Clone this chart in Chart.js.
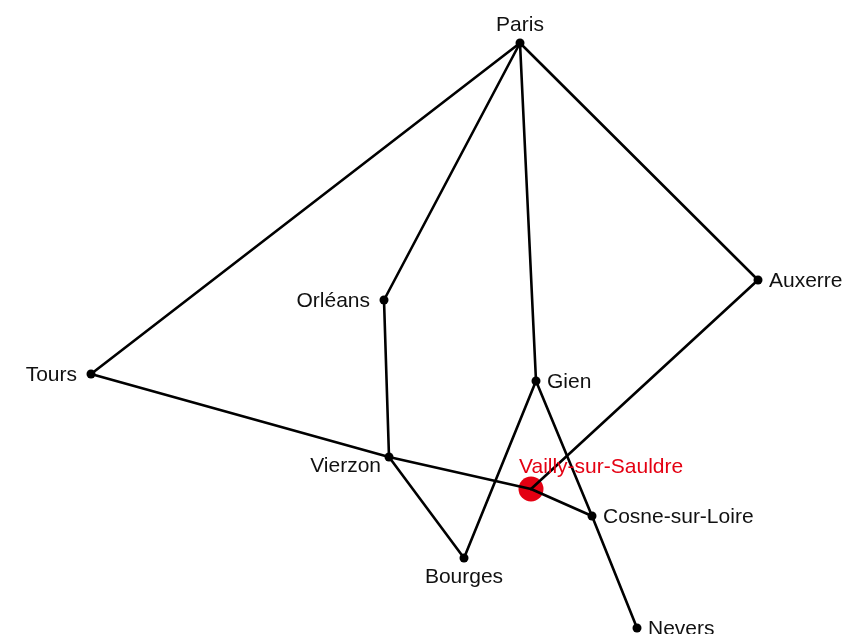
<!DOCTYPE html>
<html>
<head>
<meta charset="utf-8">
<script src="https://cdn.jsdelivr.net/npm/chart.js@4"></script>
<style>
html,body{margin:0;padding:0;background:#fff;}
#wrap{width:851px;height:634px;position:relative;}
</style>
</head>
<body>
<div id="wrap"><canvas id="c" width="851" height="634"></canvas></div>
<script>
// Node names and positions (map-like coordinates, y grows downward)
const cities = ["Paris","Tours","Orléans","Vierzon","Gien","Vailly-sur-Sauldre","Cosne-sur-Loire","Bourges","Nevers","Auxerre"];
const cityX  = [520, 91, 384, 389, 536, 531, 592, 464, 637, 758];
const cityY  = [43, 374, 300, 457, 381, 489, 516, 558, 628, 280];
const labelPos = ["top","left","left","below-left","right","above","right","bottom","right","right"];
const highlighted = ["Vailly-sur-Sauldre"];
// Routes between cities
const routeFrom = ["Paris","Paris","Paris","Paris","Orléans","Tours","Vierzon","Vailly-sur-Sauldre","Auxerre","Vierzon","Bourges","Gien","Cosne-sur-Loire"];
const routeTo   = ["Tours","Orléans","Gien","Auxerre","Vierzon","Vierzon","Vailly-sur-Sauldre","Cosne-sur-Loire","Vailly-sur-Sauldre","Bourges","Gien","Cosne-sur-Loire","Nevers"];

const idx = n => cities.indexOf(n);
const pt = n => ({x: cityX[idx(n)], y: cityY[idx(n)]});

const datasets = [];
routeFrom.forEach((a,i)=>{
  datasets.push({
    type:'line', data:[pt(a), pt(routeTo[i])],
    borderColor:'#000', borderWidth:2.6, pointRadius:0, showLine:true, fill:false, tension:0, order:3, clip:false
  });
});
const normal = cities.filter(c=>!highlighted.includes(c));
datasets.push({
  type:'scatter', data: normal.map(pt), backgroundColor:'#000', borderColor:'#000',
  pointRadius:4.5, borderWidth:0, order:2, clip:false
});
datasets.push({
  type:'scatter', data: highlighted.map(pt), backgroundColor:'rgb(228,0,18)', borderColor:'rgb(228,0,18)',
  pointRadius:12.5, borderWidth:0, order:4, clip:false
});

const labelPlugin = {
  id:'cityLabels',
  afterDatasetsDraw(chart){
    const ctx = chart.ctx, xs = chart.scales.x, ys = chart.scales.y;
    ctx.save();
    ctx.font = '21px "Liberation Sans", Arial, sans-serif';
    ctx.textBaseline = 'middle';
    cities.forEach((c,i)=>{
      const px = xs.getPixelForValue(cityX[i]);
      const py = ys.getPixelForValue(cityY[i]) + 1.5;
      const pos = labelPos[i];
      ctx.fillStyle = highlighted.includes(c) ? 'rgb(228,0,18)' : '#111';
      let tx=px, ty=py;
      if(pos==='top'){ctx.textAlign='center'; ty=py-19;}
      else if(pos==='bottom'){ctx.textAlign='center'; ty=py+18;}
      else if(pos==='left'){ctx.textAlign='right'; tx=px-14;}
      else if(pos==='right'){ctx.textAlign='left'; tx=px+11;}
      else if(pos==='below-left'){ctx.textAlign='right'; tx=px-8; ty=py+8;}
      else if(pos==='above'){ctx.textAlign='left'; tx=px-12; ty=py-23;}
      ctx.fillText(c, tx, ty);
    });
    ctx.restore();
  }
};

new Chart(document.getElementById('c'), {
  type:'scatter',
  data:{datasets},
  options:{
    responsive:false, animation:false,
    layout:{padding:0, autoPadding:false},
    plugins:{legend:{display:false}, tooltip:{enabled:false}},
    scales:{
      x:{type:'linear', min:0, max:851, display:false},
      y:{type:'linear', min:0, max:634, reverse:true, display:false}
    },
    elements:{line:{borderCapStyle:'round'}}
  },
  plugins:[labelPlugin]
});
</script>
</body>
</html>
